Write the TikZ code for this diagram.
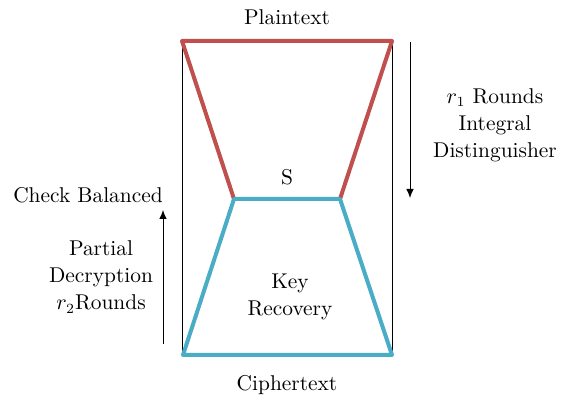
\documentclass[tikz,border=0pt]{standalone}
\usetikzlibrary{arrows.meta}
\definecolor{redl}{RGB}{192,80,77}
\definecolor{bluel}{RGB}{75,172,198}
\newcommand{\rsub}[1]{$r_{#1}$}
\begin{document}
\begin{tikzpicture}[x=0.5pt,y=-0.5pt,
  lbl/.style={font=\fontsize{10.7}{12.6}\selectfont, inner sep=0pt, align=center},
  redline/.style={draw=redl, line width=2pt, line join=round},
  blueline/.style={draw=bluel, line width=2pt, line join=round},
  thin/.style={draw=black, line width=0.5pt},
  arr/.style={draw=black, line width=0.5pt, -{Latex[length=4.5pt,width=3.8pt]}}]
\useasboundingbox (0,0) rectangle (566,399);
% frame coordinates
\coordinate (TL) at (182,41);
\coordinate (TR) at (392,41);
\coordinate (ML) at (234,199);
\coordinate (MR) at (340,199);
\coordinate (BL) at (183,355);
\coordinate (BR) at (392,355);
\coordinate (BLt) at (182.5,355);
% thin verticals
\draw[thin] (182.5,41) -- (BLt);
\draw[thin] (TR) -- (BR);
% arrows
\coordinate (d1) at (410,42);
\coordinate (d2) at (410,198);
\coordinate (u1) at (163,344);
\coordinate (u2) at (163,210);
\draw[arr] (d1) -- (d2);
\draw[arr] (u1) -- (u2);
% red hourglass top
\draw[redline] (ML) -- (TL) -- (TR) -- (MR);
% blue trapezoid
\draw[blueline] (ML) -- (MR) -- (BR) -- (BL) -- cycle;
% labels
\node[lbl] (pt) at (287,17) {Plaintext};
\node[lbl] (s) at (287,177) {S};
\node[lbl] (kr) at (290,297) {Key\\[1pt]Recovery};
\node[lbl] (ct) at (287,385) {Ciphertext};
\node[lbl] (dist) at (495,125) {\rsub{1} Rounds\\[1pt]Integral\\[1pt]Distinguisher};
\node[lbl] (cb) at (88,195) {Check Balanced};
\node[lbl] (pd) at (101,277) {Partial\\[1pt]Decryption\\[1pt]\rsub{2}Rounds};
\end{tikzpicture}
\end{document}
